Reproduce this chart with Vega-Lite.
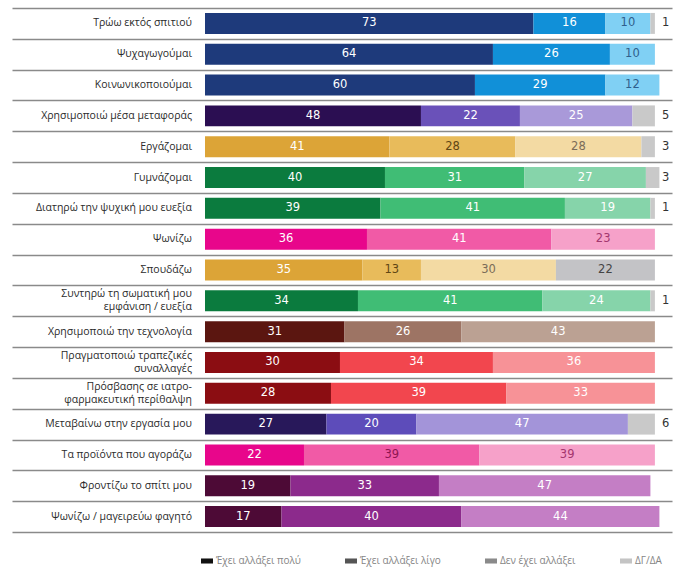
{
  "$schema": "https://vega.github.io/schema/vega-lite/v6.json",
  "width": 660,
  "height": 524,
  "autosize": {"type": "none"},
  "padding": {"left": 12, "top": 8, "right": 14, "bottom": 37},
  "background": "white",
  "config": {"view": {"stroke": null}},
  "data": {"values": [
    {"item": "Τρώω εκτός σπιτιού", "level": "Έχει αλλάξει πολύ", "value": 73},
    {"item": "Τρώω εκτός σπιτιού", "level": "Έχει αλλάξει λίγο", "value": 16},
    {"item": "Τρώω εκτός σπιτιού", "level": "Δεν έχει αλλάξει", "value": 10},
    {"item": "Τρώω εκτός σπιτιού", "level": "ΔΓ/ΔΑ", "value": 1},
    {"item": "Ψυχαγωγούμαι", "level": "Έχει αλλάξει πολύ", "value": 64},
    {"item": "Ψυχαγωγούμαι", "level": "Έχει αλλάξει λίγο", "value": 26},
    {"item": "Ψυχαγωγούμαι", "level": "Δεν έχει αλλάξει", "value": 10},
    {"item": "Κοινωνικοποιούμαι", "level": "Έχει αλλάξει πολύ", "value": 60},
    {"item": "Κοινωνικοποιούμαι", "level": "Έχει αλλάξει λίγο", "value": 29},
    {"item": "Κοινωνικοποιούμαι", "level": "Δεν έχει αλλάξει", "value": 12},
    {"item": "Χρησιμοποιώ μέσα μεταφοράς", "level": "Έχει αλλάξει πολύ", "value": 48},
    {"item": "Χρησιμοποιώ μέσα μεταφοράς", "level": "Έχει αλλάξει λίγο", "value": 22},
    {"item": "Χρησιμοποιώ μέσα μεταφοράς", "level": "Δεν έχει αλλάξει", "value": 25},
    {"item": "Χρησιμοποιώ μέσα μεταφοράς", "level": "ΔΓ/ΔΑ", "value": 5},
    {"item": "Εργάζομαι", "level": "Έχει αλλάξει πολύ", "value": 41},
    {"item": "Εργάζομαι", "level": "Έχει αλλάξει λίγο", "value": 28},
    {"item": "Εργάζομαι", "level": "Δεν έχει αλλάξει", "value": 28},
    {"item": "Εργάζομαι", "level": "ΔΓ/ΔΑ", "value": 3},
    {"item": "Γυμνάζομαι", "level": "Έχει αλλάξει πολύ", "value": 40},
    {"item": "Γυμνάζομαι", "level": "Έχει αλλάξει λίγο", "value": 31},
    {"item": "Γυμνάζομαι", "level": "Δεν έχει αλλάξει", "value": 27},
    {"item": "Γυμνάζομαι", "level": "ΔΓ/ΔΑ", "value": 3},
    {"item": "Διατηρώ την ψυχική μου ευεξία", "level": "Έχει αλλάξει πολύ", "value": 39},
    {"item": "Διατηρώ την ψυχική μου ευεξία", "level": "Έχει αλλάξει λίγο", "value": 41},
    {"item": "Διατηρώ την ψυχική μου ευεξία", "level": "Δεν έχει αλλάξει", "value": 19},
    {"item": "Διατηρώ την ψυχική μου ευεξία", "level": "ΔΓ/ΔΑ", "value": 1},
    {"item": "Ψωνίζω", "level": "Έχει αλλάξει πολύ", "value": 36},
    {"item": "Ψωνίζω", "level": "Έχει αλλάξει λίγο", "value": 41},
    {"item": "Ψωνίζω", "level": "Δεν έχει αλλάξει", "value": 23},
    {"item": "Σπουδάζω", "level": "Έχει αλλάξει πολύ", "value": 35},
    {"item": "Σπουδάζω", "level": "Έχει αλλάξει λίγο", "value": 13},
    {"item": "Σπουδάζω", "level": "Δεν έχει αλλάξει", "value": 30},
    {"item": "Σπουδάζω", "level": "ΔΓ/ΔΑ", "value": 22},
    {"item": "Συντηρώ τη σωματική μου\nεμφάνιση / ευεξία", "level": "Έχει αλλάξει πολύ", "value": 34},
    {"item": "Συντηρώ τη σωματική μου\nεμφάνιση / ευεξία", "level": "Έχει αλλάξει λίγο", "value": 41},
    {"item": "Συντηρώ τη σωματική μου\nεμφάνιση / ευεξία", "level": "Δεν έχει αλλάξει", "value": 24},
    {"item": "Συντηρώ τη σωματική μου\nεμφάνιση / ευεξία", "level": "ΔΓ/ΔΑ", "value": 1},
    {"item": "Χρησιμοποιώ την τεχνολογία", "level": "Έχει αλλάξει πολύ", "value": 31},
    {"item": "Χρησιμοποιώ την τεχνολογία", "level": "Έχει αλλάξει λίγο", "value": 26},
    {"item": "Χρησιμοποιώ την τεχνολογία", "level": "Δεν έχει αλλάξει", "value": 43},
    {"item": "Πραγματοποιώ τραπεζικές\nσυναλλαγές", "level": "Έχει αλλάξει πολύ", "value": 30},
    {"item": "Πραγματοποιώ τραπεζικές\nσυναλλαγές", "level": "Έχει αλλάξει λίγο", "value": 34},
    {"item": "Πραγματοποιώ τραπεζικές\nσυναλλαγές", "level": "Δεν έχει αλλάξει", "value": 36},
    {"item": "Πρόσβασης σε ιατρο-\nφαρμακευτική περίθαλψη", "level": "Έχει αλλάξει πολύ", "value": 28},
    {"item": "Πρόσβασης σε ιατρο-\nφαρμακευτική περίθαλψη", "level": "Έχει αλλάξει λίγο", "value": 39},
    {"item": "Πρόσβασης σε ιατρο-\nφαρμακευτική περίθαλψη", "level": "Δεν έχει αλλάξει", "value": 33},
    {"item": "Μεταβαίνω στην εργασία μου", "level": "Έχει αλλάξει πολύ", "value": 27},
    {"item": "Μεταβαίνω στην εργασία μου", "level": "Έχει αλλάξει λίγο", "value": 20},
    {"item": "Μεταβαίνω στην εργασία μου", "level": "Δεν έχει αλλάξει", "value": 47},
    {"item": "Μεταβαίνω στην εργασία μου", "level": "ΔΓ/ΔΑ", "value": 6},
    {"item": "Τα προϊόντα που αγοράζω", "level": "Έχει αλλάξει πολύ", "value": 22},
    {"item": "Τα προϊόντα που αγοράζω", "level": "Έχει αλλάξει λίγο", "value": 39},
    {"item": "Τα προϊόντα που αγοράζω", "level": "Δεν έχει αλλάξει", "value": 39},
    {"item": "Φροντίζω το σπίτι μου", "level": "Έχει αλλάξει πολύ", "value": 19},
    {"item": "Φροντίζω το σπίτι μου", "level": "Έχει αλλάξει λίγο", "value": 33},
    {"item": "Φροντίζω το σπίτι μου", "level": "Δεν έχει αλλάξει", "value": 47},
    {"item": "Ψωνίζω / μαγειρεύω φαγητό", "level": "Έχει αλλάξει πολύ", "value": 17},
    {"item": "Ψωνίζω / μαγειρεύω φαγητό", "level": "Έχει αλλάξει λίγο", "value": 40},
    {"item": "Ψωνίζω / μαγειρεύω φαγητό", "level": "Δεν έχει αλλάξει", "value": 44}
  ]},
  "transform": [
    {"window": [{"op": "row_number", "as": "rn"}]},
    {"calculate": "indexof(['Έχει αλλάξει πολύ','Έχει αλλάξει λίγο','Δεν έχει αλλάξει','ΔΓ/ΔΑ'], datum.level)", "as": "rank"},
    {"calculate": "datum.item + '|' + datum.rank", "as": "key"},
    {"calculate": "indexof(datum.item, '\\n') >= 0 ? 1 : 0", "as": "multi"},
    {"stack": "value", "groupby": ["item"], "sort": [{"field": "rank", "order": "ascending"}], "as": ["x0", "x1"]},
    {"calculate": "(datum.x0 + datum.x1) / 2", "as": "mid"}
  ],
  "encoding": {
    "y": {
      "field": "item",
      "type": "nominal",
      "sort": {"field": "rn", "op": "min"},
      "scale": {"paddingInner": 0, "paddingOuter": 0},
      "axis": {"title": null, "labels": false, "ticks": false, "domain": false, "grid": true, "tickBand": "extent", "gridColor": "#8a8a8a", "gridWidth": 1.5}
    }
  },
  "layer": [
    {
      "mark": {"type": "bar", "height": {"band": 0.68}},
      "encoding": {
        "x": {"field": "x0", "type": "quantitative", "scale": {"domain": [-42.9, 103.8], "nice": false, "zero": false}, "axis": null},
        "x2": {"field": "x1"},
        "color": {
          "field": "key",
          "type": "nominal",
          "legend": null,
          "scale": {
            "domain": [
              "Τρώω εκτός σπιτιού|0", "Τρώω εκτός σπιτιού|1", "Τρώω εκτός σπιτιού|2", "Τρώω εκτός σπιτιού|3",
              "Ψυχαγωγούμαι|0", "Ψυχαγωγούμαι|1", "Ψυχαγωγούμαι|2",
              "Κοινωνικοποιούμαι|0", "Κοινωνικοποιούμαι|1", "Κοινωνικοποιούμαι|2",
              "Χρησιμοποιώ μέσα μεταφοράς|0", "Χρησιμοποιώ μέσα μεταφοράς|1", "Χρησιμοποιώ μέσα μεταφοράς|2", "Χρησιμοποιώ μέσα μεταφοράς|3",
              "Εργάζομαι|0", "Εργάζομαι|1", "Εργάζομαι|2", "Εργάζομαι|3",
              "Γυμνάζομαι|0", "Γυμνάζομαι|1", "Γυμνάζομαι|2", "Γυμνάζομαι|3",
              "Διατηρώ την ψυχική μου ευεξία|0", "Διατηρώ την ψυχική μου ευεξία|1", "Διατηρώ την ψυχική μου ευεξία|2", "Διατηρώ την ψυχική μου ευεξία|3",
              "Ψωνίζω|0", "Ψωνίζω|1", "Ψωνίζω|2",
              "Σπουδάζω|0", "Σπουδάζω|1", "Σπουδάζω|2", "Σπουδάζω|3",
              "Συντηρώ τη σωματική μου\nεμφάνιση / ευεξία|0", "Συντηρώ τη σωματική μου\nεμφάνιση / ευεξία|1", "Συντηρώ τη σωματική μου\nεμφάνιση / ευεξία|2", "Συντηρώ τη σωματική μου\nεμφάνιση / ευεξία|3",
              "Χρησιμοποιώ την τεχνολογία|0", "Χρησιμοποιώ την τεχνολογία|1", "Χρησιμοποιώ την τεχνολογία|2",
              "Πραγματοποιώ τραπεζικές\nσυναλλαγές|0", "Πραγματοποιώ τραπεζικές\nσυναλλαγές|1", "Πραγματοποιώ τραπεζικές\nσυναλλαγές|2",
              "Πρόσβασης σε ιατρο-\nφαρμακευτική περίθαλψη|0", "Πρόσβασης σε ιατρο-\nφαρμακευτική περίθαλψη|1", "Πρόσβασης σε ιατρο-\nφαρμακευτική περίθαλψη|2",
              "Μεταβαίνω στην εργασία μου|0", "Μεταβαίνω στην εργασία μου|1", "Μεταβαίνω στην εργασία μου|2", "Μεταβαίνω στην εργασία μου|3",
              "Τα προϊόντα που αγοράζω|0", "Τα προϊόντα που αγοράζω|1", "Τα προϊόντα που αγοράζω|2",
              "Φροντίζω το σπίτι μου|0", "Φροντίζω το σπίτι μου|1", "Φροντίζω το σπίτι μου|2",
              "Ψωνίζω / μαγειρεύω φαγητό|0", "Ψωνίζω / μαγειρεύω φαγητό|1", "Ψωνίζω / μαγειρεύω φαγητό|2"
            ],
            "range": [
              "#1e3a7b", "#1190d8", "#80d0f4", "#c9c9c9",
              "#1e3a7b", "#1190d8", "#80d0f4",
              "#1e3a7b", "#1190d8", "#80d0f4",
              "#2b0e52", "#6a51b9", "#a999d9", "#c9c9c9",
              "#dca437", "#e8bb5b", "#f3daa3", "#c9c9c9",
              "#0b7b3e", "#40bd75", "#86d4aa", "#c9c9c9",
              "#0b7b3e", "#40bd75", "#86d4aa", "#c9c9c9",
              "#e8068b", "#f15aa6", "#f6a1c9",
              "#dca437", "#e8bb5b", "#f3daa3", "#c3c3c6",
              "#0b7b3e", "#40bd75", "#86d4aa", "#c9c9c9",
              "#5b1610", "#9d7464", "#bba193",
              "#8b0d12", "#f2464e", "#f79297",
              "#8b0d12", "#f2464e", "#f79297",
              "#28185a", "#5d4cba", "#a394d9", "#c9c9c9",
              "#e8068b", "#f15aa6", "#f6a1c9",
              "#4d0a36", "#8c2a8c", "#c47ec5",
              "#4d0a36", "#8c2a8c", "#c47ec5"
            ]
          }
        }
      }
    },
    {
      "transform": [{"filter": "!(datum.rank == 3 && datum.value < 10)"}],
      "mark": {"type": "text", "font": "DejaVu Sans", "fontSize": 11.5, "align": "center", "baseline": "middle"},
      "encoding": {
        "x": {"field": "mid", "type": "quantitative"},
        "text": {"field": "value", "type": "quantitative"},
        "color": {
          "condition": [
            {"test": "indexof(['Τρώω εκτός σπιτιού|2','Ψυχαγωγούμαι|2','Κοινωνικοποιούμαι|2'], datum.key) >= 0", "value": "#2f5f8c"},
            {"test": "indexof(['Εργάζομαι|1','Σπουδάζω|1'], datum.key) >= 0", "value": "#5f4614"},
            {"test": "indexof(['Εργάζομαι|2','Σπουδάζω|2'], datum.key) >= 0", "value": "#7b6c58"},
            {"test": "datum.key == 'Σπουδάζω|3'", "value": "#444444"},
            {"test": "indexof(['Ψωνίζω|2','Τα προϊόντα που αγοράζω|2'], datum.key) >= 0", "value": "#a4376f"},
            {"test": "datum.key == 'Τα προϊόντα που αγοράζω|1'", "value": "#8e1552"}
          ],
          "value": "#ffffff"
        }
      }
    },
    {
      "transform": [{"filter": "datum.rank == 3 && datum.value < 10"}],
      "mark": {"type": "text", "font": "DejaVu Sans", "fontSize": 11.5, "align": "center", "baseline": "middle", "color": "#333333"},
      "encoding": {
        "x": {"datum": 102.4, "type": "quantitative"},
        "text": {"field": "value", "type": "quantitative"}
      }
    },
    {
      "transform": [{"filter": "datum.rank == 0 && datum.multi == 0"}],
      "mark": {"type": "text", "font": "Open Sans", "fontSize": 10.5, "align": "right", "baseline": "middle", "color": "#2b2b2b"},
      "encoding": {
        "x": {"datum": -2.9, "type": "quantitative"},
        "text": {"field": "item", "type": "nominal"}
      }
    },
    {
      "transform": [{"filter": "datum.rank == 0 && datum.multi == 1"}],
      "mark": {"type": "text", "font": "Open Sans", "fontSize": 10.5, "align": "right", "baseline": "middle", "lineBreak": "\n", "lineHeight": 13, "dy": -6.5, "color": "#2b2b2b"},
      "encoding": {
        "x": {"datum": -2.9, "type": "quantitative"},
        "text": {"field": "item", "type": "nominal"}
      }
    },
    {
      "transform": [{"filter": "false"}],
      "mark": {"type": "bar"},
      "encoding": {
        "color": {
          "field": "level",
          "type": "nominal",
          "scale": {
            "domain": ["Έχει αλλάξει πολύ", "Έχει αλλάξει λίγο", "Δεν έχει αλλάξει", "ΔΓ/ΔΑ"],
            "range": ["#111111", "#555555", "#8a8a8a", "#c4c4c4"]
          },
          "legend": {
            "title": null,
            "orient": "none",
            "legendX": 189,
            "legendY": 547,
            "direction": "horizontal",
            "columns": 4,
            "columnPadding": 44,
            "gridAlign": "none",
            "symbolType": "M-1,-0.42H1V0.42H-1Z",
            "symbolSize": 144,
            "symbolStrokeWidth": 0,
            "symbolOffset": 0,
            "labelOffset": 3,
            "labelFont": "Open Sans",
            "labelFontSize": 10,
            "labelColor": "#858585"
          }
        }
      }
    }
  ],
  "resolve": {"scale": {"color": "independent"}}
}
